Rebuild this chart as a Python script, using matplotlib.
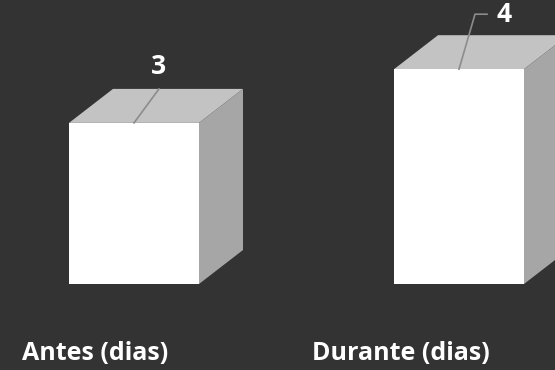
import matplotlib
matplotlib.use("Agg")
import matplotlib.pyplot as plt
from matplotlib.patches import Polygon

categories = ["Antes (dias)", "Durante (dias)"]
values = [3, 4]

BG = "#333333"
FRONT = "#ffffff"
TOP = "#c3c3c3"
SIDE = "#a6a6a6"

W, H = 555, 370
fig = plt.figure(figsize=(W / 100, H / 100), dpi=100, facecolor=BG)
ax = fig.add_axes([0, 0, 1, 1])
ax.set_facecolor(BG)

# pixel layout -> data units
px_x = 1 / 325.0          # one pixel in x units (bar spacing 325 px)
px_y = 1 / 53.7           # one pixel in y units
ax.set_xlim(-134 * px_x, (W - 134) * px_x)
ax.set_ylim(-(H - 284) * px_y, 284 * px_y)
ax.axis("off")

bw = 130 * px_x
dx = 44 * px_x
dy = 34 * px_y

# leader line shapes per bar (in pixels): (end dx, end dy, hook, label dx, label dy)
leaders = [(25, 34, 0, 0, 22), (16, 55, 12, 17, 0)]
cat_shift = [-39, -58]  # category label offset from bar centre, px

for i, (cat, v) in enumerate(zip(categories, values)):
    x0, x1 = i - bw / 2, i + bw / 2
    ax.add_patch(Polygon([(x0, 0), (x1, 0), (x1, v), (x0, v)], closed=True,
                         facecolor=FRONT, edgecolor="none", zorder=3))
    ax.add_patch(Polygon([(x0, v), (x1, v), (x1 + dx, v + dy), (x0 + dx, v + dy)],
                         closed=True, facecolor=TOP, edgecolor="none", zorder=2))
    ax.add_patch(Polygon([(x1, 0), (x1 + dx, dy), (x1 + dx, v + dy), (x1, v)],
                         closed=True, facecolor=SIDE, edgecolor="none", zorder=2))

    ex, ey, hook, lx, ly = leaders[i]
    xs = [i, i + ex * px_x, i + (ex + hook) * px_x]
    ys = [v, v + ey * px_y, v + ey * px_y]
    ax.plot(xs, ys, color="#8c8c8c", lw=1.2, zorder=4)
    ax.text(xs[-1] + lx * px_x, ys[-1] + ly * px_y, str(v), color="white",
            fontsize=19, fontweight="bold", family="Open Sans",
            ha="center", va="center", zorder=5)

    ax.text(i + cat_shift[i] * px_x, -70 * px_y, cat, color="white", fontsize=18,
            fontweight="bold", family="Open Sans", ha="center", va="center")

fig.savefig("out.png", dpi=100, facecolor=BG)
